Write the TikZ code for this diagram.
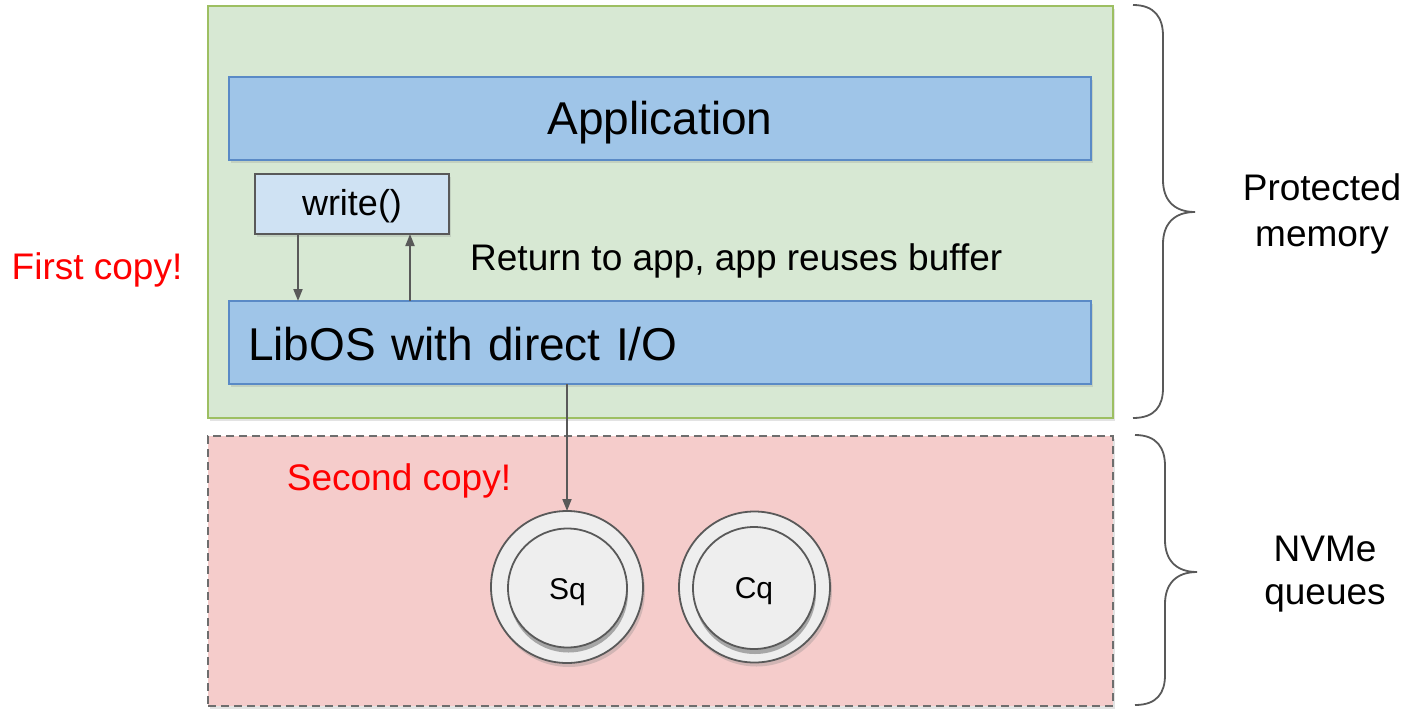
\documentclass[tikz,border=0pt]{standalone}
\usepackage{fontspec}
\setmainfont{Liberation Sans}
\usetikzlibrary{arrows.meta,shadows}
\definecolor{grfill}{HTML}{D7E8D3}
\definecolor{grdraw}{HTML}{9DBF62}
\definecolor{blfill}{HTML}{9FC5E8}
\definecolor{bldraw}{HTML}{5A8AC6}
\definecolor{wrfill}{HTML}{CFE2F3}
\definecolor{dkgray}{HTML}{595959}
\definecolor{pkfill}{HTML}{F5CCCB}
\definecolor{pkdraw}{HTML}{6E6E6E}
\definecolor{cirfill}{HTML}{EEEEEE}
\definecolor{redtxt}{HTML}{FF0000}
\newcommand{\fsz}[2]{\fontsize{#1}{#2}\selectfont}
\newcommand{\dn}[2]{\raisebox{-#1pt}[\height][\depth]{#2}}
\tikzset{
  shad/.style={drop shadow={opacity=0.22, shadow xshift=2pt, shadow yshift=-3pt}},
  region/.style={rectangle, inner sep=0pt, outer sep=0pt, shad, line width=2pt},
  layer/.style={rectangle, inner sep=0pt, outer sep=0pt, fill=blfill, draw=bldraw, line width=2pt, shad, minimum width=862pt, minimum height=83pt},
  callbox/.style={rectangle, inner sep=0pt, outer sep=0pt, fill=wrfill, draw=dkgray, line width=2.5pt, shad, minimum width=194pt, minimum height=60pt},
  qouter/.style={circle, inner sep=0pt, outer sep=0pt, fill=cirfill, draw=dkgray, line width=1.8pt, drop shadow={opacity=0.3, shadow xshift=2pt, shadow yshift=-4pt}},
  qinner/.style={circle, inner sep=0pt, outer sep=0pt, fill=cirfill, draw=dkgray, line width=1.8pt, drop shadow={opacity=0.65, shadow xshift=1pt, shadow yshift=-5pt}},
  arr/.style={draw=dkgray, line width=1.8pt, -{Triangle[length=12pt,width=9pt]}},
  brc/.style={draw=dkgray, line width=1.8pt},
  lbl/.style={inner sep=0pt, font=\fsz{37}{45}},
  redlbl/.style={lbl, text=redtxt}
}
\begin{document}
\begin{tikzpicture}[x=1pt,y=-1pt]
\useasboundingbox (0,0) rectangle (1406,710);
% regions
\node[region, fill=grfill, draw=grdraw, minimum width=905pt, minimum height=412pt] (prot) at (660.5,212) {};
\node[region, fill=pkfill, draw=pkdraw, dashed, dash pattern=on 8pt off 5pt, minimum width=905pt, minimum height=270pt] (nvme) at (660.5,571) {};
% layers
\node[layer, font=\fsz{46}{55}] (app) at (660,118.5) {\dn{4}{Application}};
\node[layer, font=\fsz{46}{55}, text width=824pt, align=left, inner xsep=19pt] (libos) at (660,342.5) {\dn{2}{LibOS with direct I/O}};
\node[callbox, font=\fsz{36}{43}] (write) at (352,204) {\dn{2}{write()}};
% queues
\node[qouter, minimum size=152pt] (sq) at (567,587) {};
\node[qinner, minimum size=119pt, font=\fsz{30}{36}] (sqin) at (567.5,588) {\dn{4}{Sq}};
\node[qouter, minimum size=151pt] (cq) at (754.5,587) {};
\node[qinner, minimum size=122pt, font=\fsz{30}{36}] (cqin) at (754,588) {\dn{3}{Cq}};
% labels
\node[lbl, anchor=west] (ret) at (470,261) {Return to app, app reuses buffer};
\node[redlbl] (first) at (97,270) {First copy!};
\node[redlbl] (second) at (399,481) {Second copy!};
\node[lbl, align=center, font=\fsz{37}{46}] (pm) at (1322,214) {Protected\\memory};
\node[lbl, align=center, font=\fsz{37}{43}] (nq) at (1325,574) {NVMe\\queues};
% connectors
\coordinate (d1) at (298,0);
\coordinate (u1) at (410,0);
\draw[arr] (write.south -| d1) -- (libos.north -| d1);
\draw[arr] (libos.north -| u1) -- (write.south -| u1);
\draw[arr] (libos.south -| sq) -- (sq.north);
% braces
\draw[brc] (1133,5) .. controls (1155,5) and (1163,18) .. (1163,36)
  -- (1163,180) .. controls (1163,200) and (1174,212) .. (1195,212)
  .. controls (1174,212) and (1163,224) .. (1163,244)
  -- (1163,388) .. controls (1163,406) and (1155,418) .. (1133,418);
\draw[brc] (1135,435) .. controls (1157,435) and (1165,448) .. (1165,466)
  -- (1165,540) .. controls (1165,560) and (1176,572) .. (1197,572)
  .. controls (1176,572) and (1165,584) .. (1165,604)
  -- (1165,675) .. controls (1165,693) and (1157,705) .. (1135,705);
\end{tikzpicture}
\end{document}
